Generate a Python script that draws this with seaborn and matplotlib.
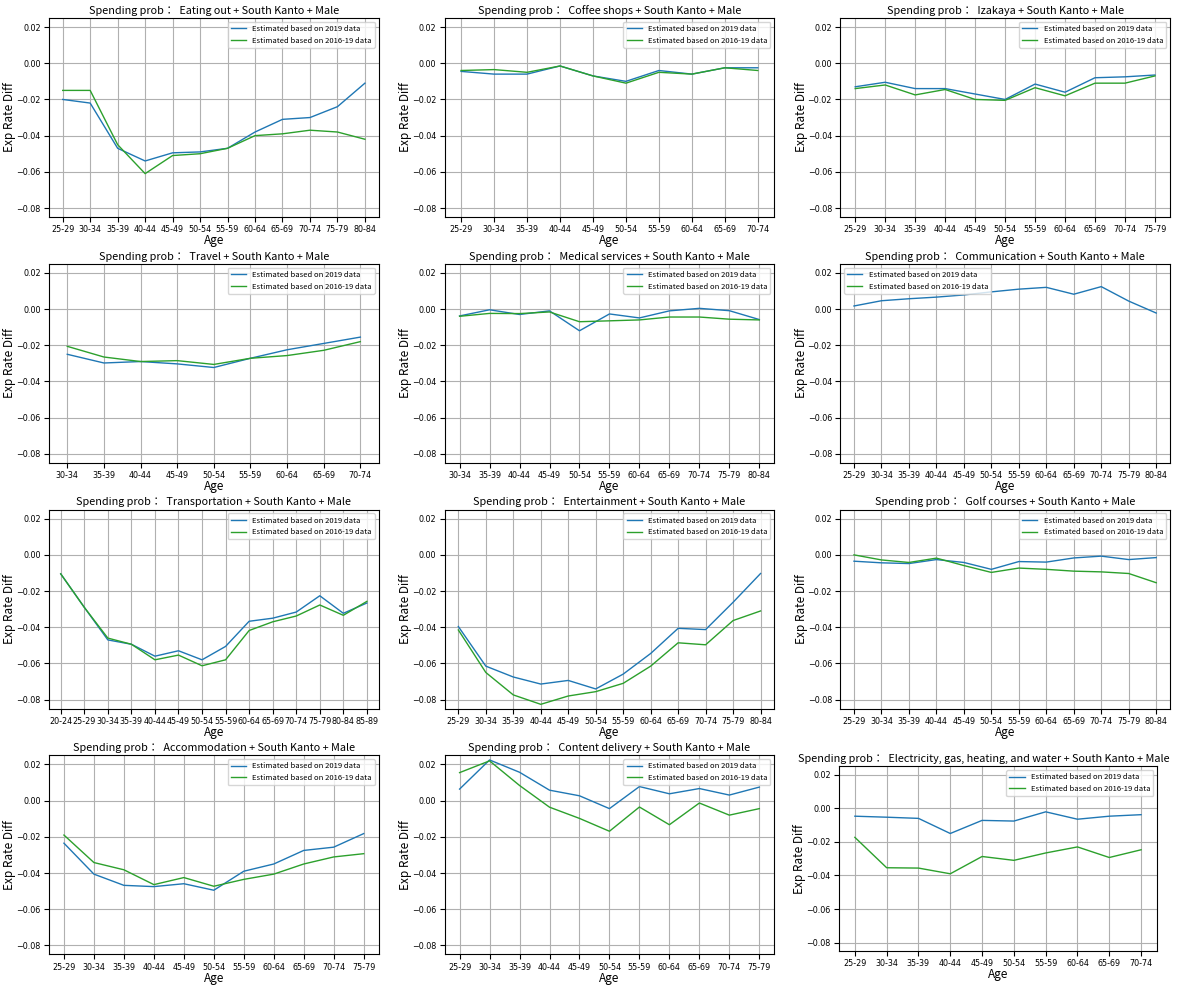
import matplotlib
matplotlib.use("Agg")
import matplotlib.pyplot as plt
import seaborn as sns
import numpy as np

plt.rcParams['font.family'] = ['Noto Sans CJK JP', 'DejaVu Sans']

LBL_2019 = 'Estimated based on 2019 data'
LBL_1619 = 'Estimated based on 2016-19 data'

# age groups per panel
ages_25_84 = ['25-29', '30-34', '35-39', '40-44', '45-49', '50-54', '55-59', '60-64', '65-69', '70-74', '75-79', '80-84']
ages_25_74 = ages_25_84[:10]
ages_25_79 = ages_25_84[:11]
ages_30_74 = ages_25_84[1:10]
ages_30_84 = ages_25_84[1:]
ages_20_89 = ['20-24'] + ages_25_84 + ['85-89']

# panel titles (category)
categories = ['Eating out', 'Coffee shops', 'Izakaya', 'Travel', 'Medical services', 'Communication',
              'Transportation', 'Entertainment', 'Golf courses', 'Accommodation', 'Content delivery',
              'Electricity, gas, heating, and water']

eating_2019 = [-0.020, -0.022, -0.047, -0.054, -0.0495, -0.049, -0.047, -0.038, -0.031, -0.030, -0.024, -0.011]
eating_1619 = [-0.015, -0.015, -0.045, -0.061, -0.051, -0.050, -0.047, -0.040, -0.039, -0.037, -0.038, -0.042]

coffee_2019 = [-0.0045, -0.006, -0.006, -0.0015, -0.007, -0.010, -0.004, -0.006, -0.0025, -0.0025]
coffee_1619 = [-0.004, -0.0035, -0.005, -0.0015, -0.007, -0.011, -0.005, -0.006, -0.0025, -0.004]

izakaya_2019 = [-0.013, -0.0105, -0.014, -0.014, -0.017, -0.020, -0.0115, -0.016, -0.008, -0.0075, -0.0065]
izakaya_1619 = [-0.014, -0.012, -0.0175, -0.0145, -0.020, -0.0205, -0.0135, -0.018, -0.011, -0.011, -0.007]

travel_2019 = [-0.025, -0.0298, -0.029, -0.0303, -0.0323, -0.0272, -0.0225, -0.019, -0.0155]
travel_1619 = [-0.0206, -0.0265, -0.029, -0.0285, -0.0306, -0.0272, -0.0257, -0.0228, -0.018]

medical_2019 = [-0.0038, -0.0004, -0.003, -0.001, -0.012, -0.0027, -0.0049, -0.001, 0.0004, -0.0009, -0.0058]
medical_1619 = [-0.004, -0.0024, -0.0025, -0.0016, -0.007, -0.0065, -0.006, -0.0044, -0.0044, -0.0056, -0.006]

comm_2019 = [0.0017, 0.0046, 0.0057, 0.0066, 0.0078, 0.0095, 0.011, 0.012, 0.0082, 0.0124, 0.0044, -0.0022]
comm_1619 = [np.nan] * 12  # no 2016-19 estimate

transport_2019 = [-0.0105, -0.029, -0.047, -0.0494, -0.056, -0.053, -0.058, -0.0506, -0.0367, -0.035, -0.0316, -0.0226, -0.0323, -0.0266]
transport_1619 = [-0.0105, -0.029, -0.046, -0.0494, -0.058, -0.0554, -0.0613, -0.058, -0.0418, -0.037, -0.0338, -0.0277, -0.0334, -0.0257]

entertain_2019 = [-0.0396, -0.0615, -0.0675, -0.0714, -0.0694, -0.0741, -0.0659, -0.0545, -0.0406, -0.0413, -0.0262, -0.0103]
entertain_1619 = [-0.0415, -0.065, -0.0774, -0.0826, -0.078, -0.0756, -0.071, -0.0615, -0.0486, -0.0497, -0.0363, -0.031]

golf_2019 = [-0.0035, -0.0044, -0.0048, -0.0026, -0.0042, -0.008, -0.0037, -0.004, -0.0017, -0.0007, -0.0026, -0.0015]
golf_1619 = [0.0, -0.0028, -0.0042, -0.0018, -0.0059, -0.0097, -0.0073, -0.008, -0.009, -0.0094, -0.0103, -0.0154]

accom_2019 = [-0.0235, -0.0406, -0.0468, -0.0475, -0.0459, -0.0495, -0.039, -0.035, -0.0275, -0.0257, -0.0182]
accom_1619 = [-0.019, -0.0342, -0.0382, -0.0464, -0.0425, -0.0473, -0.0435, -0.0406, -0.035, -0.0311, -0.0293]

content_2019 = [0.0064, 0.0225, 0.0157, 0.0058, 0.0027, -0.0044, 0.0078, 0.0038, 0.0067, 0.0031, 0.0075]
content_1619 = [0.0155, 0.022, 0.0084, -0.0036, -0.0098, -0.0169, -0.0035, -0.0133, -0.0013, -0.008, -0.0044]

elec_2019 = [-0.0047, -0.0053, -0.006, -0.015, -0.0072, -0.0076, -0.0021, -0.0065, -0.0047, -0.0038]
elec_1619 = [-0.0173, -0.0354, -0.0356, -0.039, -0.0287, -0.031, -0.0266, -0.023, -0.0293, -0.0247]

panels = [
    (ages_25_84, eating_2019, eating_1619),
    (ages_25_74, coffee_2019, coffee_1619),
    (ages_25_79, izakaya_2019, izakaya_1619),
    (ages_30_74, travel_2019, travel_1619),
    (ages_30_84, medical_2019, medical_1619),
    (ages_25_84, comm_2019, comm_1619),
    (ages_20_89, transport_2019, transport_1619),
    (ages_25_84, entertain_2019, entertain_1619),
    (ages_25_84, golf_2019, golf_1619),
    (ages_25_79, accom_2019, accom_1619),
    (ages_25_79, content_2019, content_1619),
    (ages_25_74, elec_2019, elec_1619),
]

fig, axes = plt.subplots(4, 3, figsize=(11.77, 9.85), dpi=100)
fig.subplots_adjust(left=0.0416, right=0.994, top=0.9817, bottom=0.031, wspace=0.2, hspace=0.235)

for i, (ax, cat, (ages, v19, v1619)) in enumerate(zip(axes.flat, categories, panels)):
    x = np.arange(len(ages))
    sns.lineplot(x=x, y=v19, ax=ax, color='tab:blue', linewidth=1, label=LBL_2019, sort=False)
    if np.all(np.isnan(v1619)):
        ax.plot([], [], color='tab:green', linewidth=1, label=LBL_1619)
    else:
        sns.lineplot(x=x, y=v1619, ax=ax, color='tab:green', linewidth=1, label=LBL_1619, sort=False)
    ax.set_xticks(x)
    ax.set_xticklabels(ages)
    ax.set_xlim(-0.5, len(ages) - 0.5)
    ax.set_ylim(-0.085, 0.025)
    ax.set_yticks([-0.08, -0.06, -0.04, -0.02, 0.0, 0.02])
    ax.tick_params(labelsize=5.8, pad=2.5)
    for t in ax.get_xticklabels() + ax.get_yticklabels():
        t.set_family('DejaVu Sans')
    ax.grid(True, color='#b0b0b0', linewidth=0.8)
    last = i == len(panels) - 1
    ax.set_title(f'Spending prob：  {cat} + South Kanto + Male', fontsize=7.8, pad=3,
                 x=0.455 if last else 0.5)
    ax.set_xlabel('Age', fontsize=8.5, labelpad=0)
    ax.set_ylabel('Exp Rate Diff', fontsize=8.5, labelpad=0)
    loc = 'upper left' if cat == 'Communication' else 'upper right'
    ax.legend(loc=loc, fontsize=5.5)

# the last panel is a bit narrower because of its long title
axes.flat[-1].set_position([0.7128, 0.0345, 0.2702, 0.1875])

fig.savefig('out.png', dpi=100)
